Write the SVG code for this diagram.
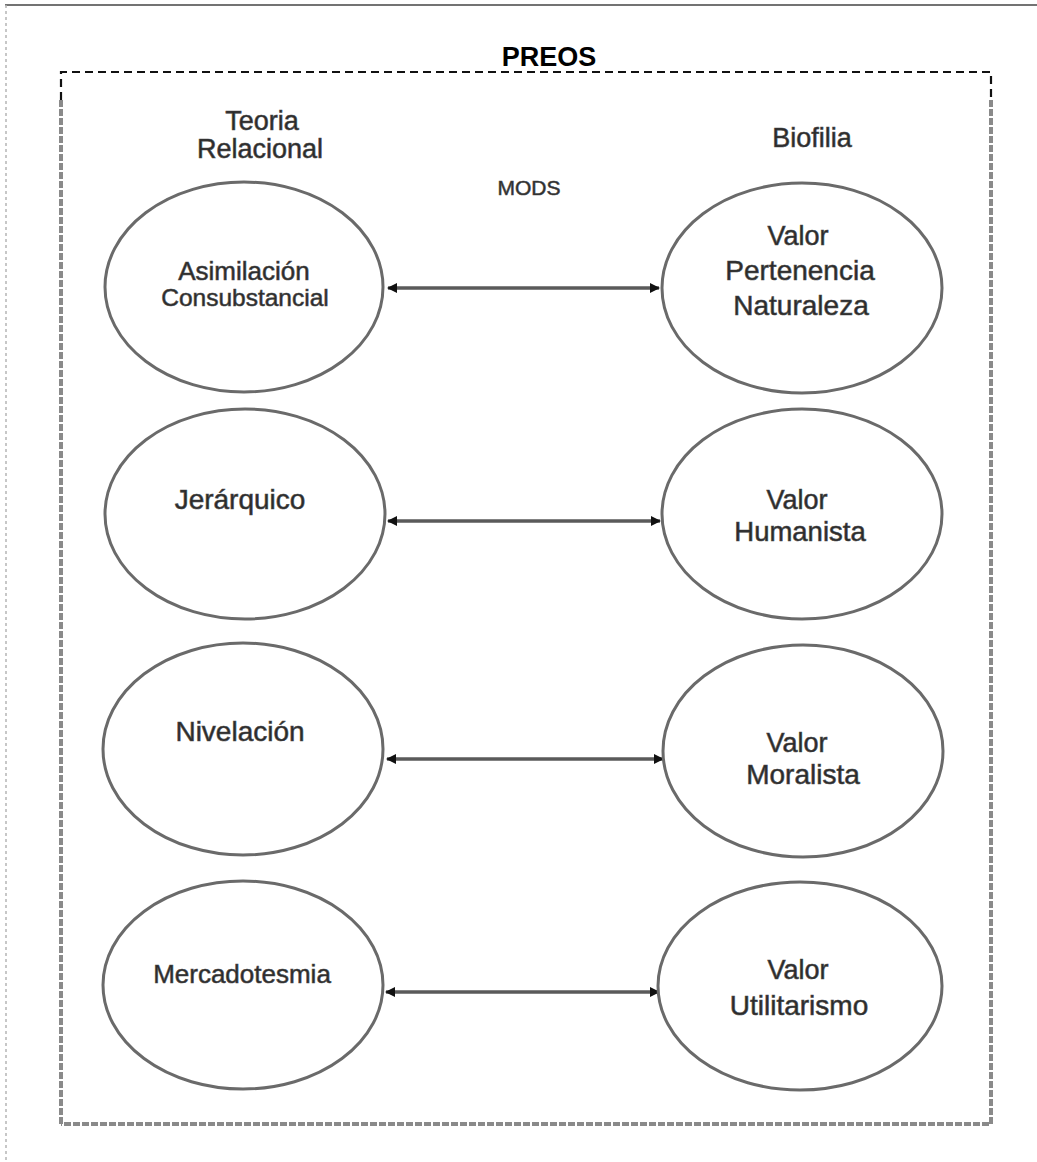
<svg xmlns="http://www.w3.org/2000/svg" width="1037" height="1162" viewBox="0 0 1037 1162">
  <style>
    .node ellipse { fill: #ffffff; stroke: #6a6a6a; stroke-width: 3; }
    .lbl { font-family: "Liberation Sans", Arial, sans-serif; font-size: 26px; fill: #2a2a2a; text-anchor: middle; stroke: #4a4a4a; stroke-width: 0.6; }
    .title { font-family: "Liberation Sans", Arial, sans-serif; font-size: 27px; font-weight: bold; fill: #000; text-anchor: middle; }
    .link { stroke: #5a5a5a; stroke-width: 3.5; fill: none; marker-start: url(#tip); marker-end: url(#tip); }
  </style>
  <defs>
    <marker id="tip" viewBox="0 0 10 10" refX="9" refY="5" markerWidth="12" markerHeight="10" markerUnits="userSpaceOnUse" orient="auto-start-reverse">
      <path d="M0,0 L10,5 L0,10 z" fill="#111"/>
    </marker>
  </defs>

  <rect width="1037" height="1162" fill="#ffffff"/>

  <!-- page frame -->
  <line x1="5" y1="5" x2="1037" y2="5" stroke="#444" stroke-width="1.5"/>
  <line x1="6" y1="5" x2="6" y2="1162" stroke="#b5b5b5" stroke-width="1.5" stroke-dasharray="3 3"/>

  <!-- PREOS boundary -->
  <g id="preos">
    <path d="M61,1124 L61,100 M991,100 L991,1124 L61,1124" fill="none" stroke="#8a8a8a" stroke-width="4" stroke-dasharray="7 2"/>
    <path d="M61,100 L61,72 L991,72 L991,100" fill="none" stroke="#111" stroke-width="2.2" stroke-dasharray="8 5"/>
    <text class="title" x="549" y="66">PREOS</text>
  </g>

  <!-- column headings -->
  <g id="head-teoria">
    <text class="lbl" x="262" y="130" style="font-size:27px">Teoria</text>
    <text class="lbl" x="260" y="158" style="font-size:27px">Relacional</text>
  </g>
  <g id="head-biofilia">
    <text class="lbl" x="812" y="147" style="font-size:27px">Biofilia</text>
  </g>
  <g id="head-mods">
    <text class="lbl" x="529" y="195" style="font-size:21px">MODS</text>
  </g>

  <!-- connectors -->
  <g id="connectors">
    <line class="link" x1="388" y1="288" x2="659" y2="288"/>
    <line class="link" x1="388" y1="521" x2="660" y2="521"/>
    <line class="link" x1="387" y1="759" x2="663" y2="759"/>
    <line class="link" x1="386" y1="992" x2="659" y2="992"/>
  </g>

  <!-- left column -->
  <g id="asimilacion" class="node">
    <ellipse cx="244" cy="287" rx="139" ry="105"/>
    <text class="lbl" x="244" y="280" style="font-size:26px">Asimilación</text>
    <text class="lbl" x="245" y="306" style="font-size:24.5px">Consubstancial</text>
  </g>
  <g id="jerarquico" class="node">
    <ellipse cx="245" cy="514" rx="140" ry="105"/>
    <text class="lbl" x="240" y="509" style="font-size:28px">Jerárquico</text>
  </g>
  <g id="nivelacion" class="node">
    <ellipse cx="243" cy="749" rx="140" ry="106"/>
    <text class="lbl" x="240" y="741" style="font-size:28px">Nivelación</text>
  </g>
  <g id="mercadotesmia" class="node">
    <ellipse cx="243" cy="985" rx="140" ry="104"/>
    <text class="lbl" x="242" y="983" style="font-size:26px">Mercadotesmia</text>
  </g>

  <!-- right column -->
  <g id="pertenencia" class="node">
    <ellipse cx="802" cy="288" rx="140" ry="105"/>
    <text class="lbl" x="798" y="245" style="font-size:27px">Valor</text>
    <text class="lbl" x="800" y="280" style="font-size:28px">Pertenencia</text>
    <text class="lbl" x="801" y="315" style="font-size:28px">Naturaleza</text>
  </g>
  <g id="humanista" class="node">
    <ellipse cx="802" cy="514" rx="140" ry="105"/>
    <text class="lbl" x="797" y="509" style="font-size:27px">Valor</text>
    <text class="lbl" x="800" y="541" style="font-size:27.5px">Humanista</text>
  </g>
  <g id="moralista" class="node">
    <ellipse cx="803" cy="751" rx="140" ry="106"/>
    <text class="lbl" x="797" y="752" style="font-size:27px">Valor</text>
    <text class="lbl" x="803" y="784" style="font-size:28px">Moralista</text>
  </g>
  <g id="utilitarismo" class="node">
    <ellipse cx="800" cy="986" rx="142" ry="104"/>
    <text class="lbl" x="798" y="979" style="font-size:27px">Valor</text>
    <text class="lbl" x="799" y="1015" style="font-size:28px">Utilitarismo</text>
  </g>
</svg>
